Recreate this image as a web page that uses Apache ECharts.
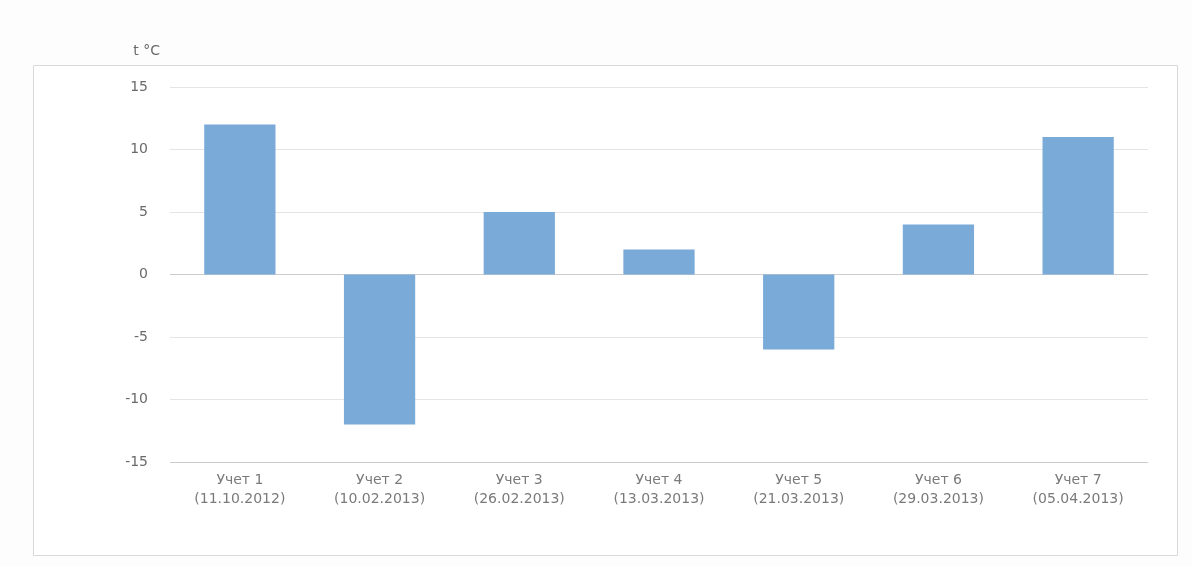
<!DOCTYPE html>
<html><head><meta charset="utf-8">
<script src="https://cdn.jsdelivr.net/npm/echarts@6/dist/echarts.min.js"></script>
<style>html,body{margin:0;padding:0;background:#fff;}#c{width:1192px;height:567px;}</style>
</head><body><div id="c"></div>
<script>
const categories = ['Учет 1\n(11.10.2012)','Учет 2\n(10.02.2013)','Учет 3\n(26.02.2013)','Учет 4\n(13.03.2013)','Учет 5\n(21.03.2013)','Учет 6\n(29.03.2013)','Учет 7\n(05.04.2013)'];
const temperatures = [12, -12, 5, 2, -6, 4, 11];
const yTitle = 't °C';

const chart = echarts.init(document.getElementById('c'));
chart.setOption({
  backgroundColor: '#fdfdfd',
  animation: false,
  graphic: [{
    type: 'rect', left: 33, top: 65, shape: {width: 1144, height: 490},
    style: {fill: '#ffffff', stroke: '#d9d9d9', lineWidth: 1}, z: -10
  }],
  grid: {left: 170, right: 44, top: 87, bottom: 105},
  xAxis: {
    type: 'category', data: categories,
    axisLine: {show: false}, axisTick: {show: false},
    axisLabel: {color: '#7a7a7a', fontSize: 14, lineHeight: 19, margin: 9, fontFamily: 'DejaVu Sans', interval: 0}
  },
  yAxis: {
    type: 'value', min: -15, max: 15, interval: 5,
    name: yTitle, nameLocation: 'end', nameGap: 29,
    nameTextStyle: {color: '#6a6a6a', fontSize: 14, align: 'right', padding: [0, 10, 0, 0], fontFamily: 'DejaVu Sans'},
    axisLabel: {color: '#6a6a6a', fontSize: 14, margin: 22, fontFamily: 'DejaVu Sans'},
    splitLine: {lineStyle: {color: ['#cccccc','#e4e4e4','#e4e4e4','#cccccc','#e4e4e4','#e4e4e4','#e4e4e4']}},
    axisLine: {show: false}, axisTick: {show: false}
  },
  series: [{
    type: 'bar', data: temperatures, barWidth: '51%',
    itemStyle: {color: '#79aad8'}
  }]
});
</script></body></html>
